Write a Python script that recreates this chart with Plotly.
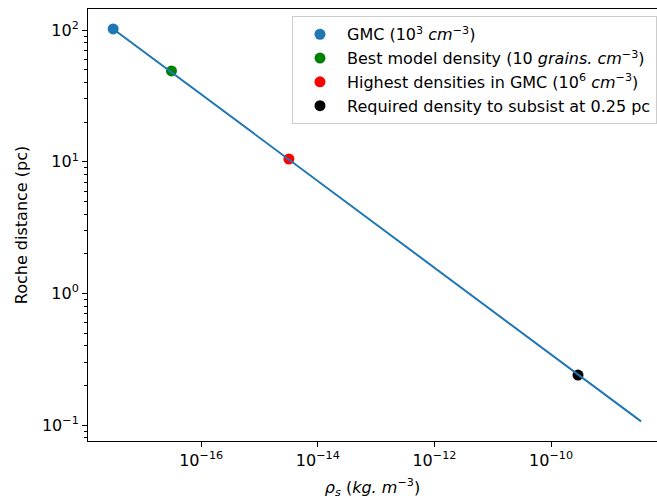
import plotly.graph_objects as go
import numpy as np

# Data
line_rho = [3.1e-18, 3.5e-9]          # kg m^-3
line_dist = [102.0, 0.107]             # pc

point_names = [
    "GMC (10<sup>3</sup> <i>cm</i><sup>−3</sup>)",
    "Best model density (10 <i>grains. cm</i><sup>−3</sup>)",
    "Highest densities in GMC (10<sup>6</sup> <i>cm</i><sup>−3</sup>)",
    "Required density to subsist at 0.25 pc",
]
point_rho = [3.1e-18, 3.1e-17, 3.2e-15, 2.9e-10]
point_dist = [102.0, 49.0, 10.5, 0.24]
point_colors = ["#1f77b4", "#008000", "#ff0000", "#000000"]

x_tickvals = [1e-16, 1e-14, 1e-12, 1e-10]
x_ticktext = ["10<sup>−16</sup>", "10<sup>−14</sup>", "10<sup>−12</sup>", "10<sup>−10</sup>"]
y_tickvals = [1e-1, 1e0, 1e1, 1e2]
y_ticktext = ["10<sup>−1</sup>", "10<sup>0</sup>", "10<sup>1</sup>", "10<sup>2</sup>"]
y_minor = [k * 10.0**n for n in range(-2, 3) for k in range(2, 10)]

fig = go.Figure()
for i, (name, xr, yd, c) in enumerate(zip(point_names, point_rho, point_dist, point_colors)):
    fig.add_trace(go.Scatter(x=[xr], y=[yd], mode="markers", name=name, legendgroup=f"g{i}",
                             marker=dict(color=c, size=11, line=dict(width=0))))
fig.add_trace(go.Scatter(x=line_rho, y=line_dist, mode="lines", showlegend=False,
                         line=dict(color="#1f77b4", width=2)))

font = "DejaVu Sans"
fig.update_layout(
    width=657, height=501,
    margin=dict(l=88, r=0, t=9, b=60),
    paper_bgcolor="white", plot_bgcolor="white",
    font=dict(family=font, size=16, color="black"),
    showlegend=True,
    legend=dict(x=0.3585, y=0.983, xanchor="left", yanchor="top",
                bgcolor="rgba(255,255,255,0.8)", bordercolor="#cccccc", borderwidth=1,
                font=dict(family=font, size=16, color="black"), tracegroupgap=0,
                itemwidth=44),
)
fig.update_xaxes(
    type="log", range=[-17.94, -8.183],
    tickmode="array", tickvals=x_tickvals, ticktext=x_ticktext,
    tickfont=dict(size=16),
    showline=True, linecolor="black", linewidth=1, mirror=True,
    ticks="outside", ticklen=5, tickwidth=1, tickcolor="black",
    showgrid=False, zeroline=False,
    title=dict(text="<i>ρ<sub>s</sub></i> (<i>kg. m</i><sup>−3</sup>)", font=dict(size=16), standoff=12),
)
fig.update_yaxes(
    type="log", range=[-1.12, 2.16],
    tickmode="array", tickvals=y_tickvals, ticktext=y_ticktext,
    tickfont=dict(size=16),
    showline=True, linecolor="black", linewidth=1, mirror=False,
    ticks="outside", ticklen=5, tickwidth=1, tickcolor="black",
    minor=dict(tickmode="array", tickvals=y_minor, ticks="outside", ticklen=3, tickwidth=1, tickcolor="black", showgrid=False),
    showgrid=False, zeroline=False,
    title=dict(text="Roche distance (pc)", font=dict(size=16), standoff=10),
)
fig.write_html("out.html", config={"displayModeBar": False},
               post_script="document.body.style.margin='0';document.body.style.overflow='hidden';")
